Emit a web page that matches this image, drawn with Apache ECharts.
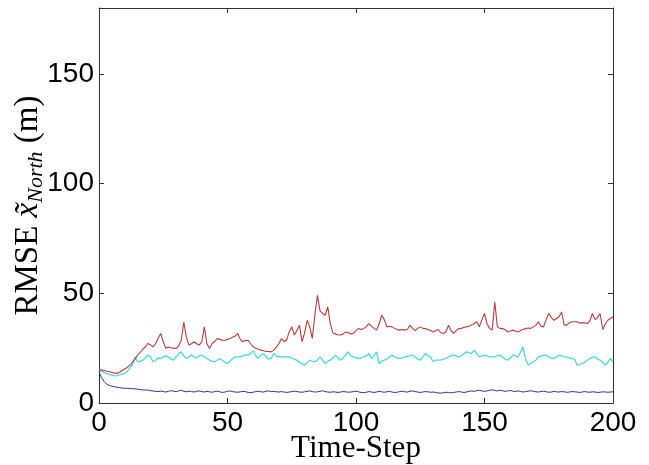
<!DOCTYPE html>
<html><head><meta charset="utf-8">
<script src="https://cdn.jsdelivr.net/npm/echarts@6/dist/echarts.min.js"></script>
<style>html,body{margin:0;padding:0;background:#fff}#c{width:649px;height:465px}</style>
</head><body><div id="c"></div>
<script>
const xTicks = [0, 50, 100, 150, 200];
const yTicks = [0, 50, 100, 150];
const redSeries = [
 15, 15, 14.8, 14.5, 14.2, 14, 13.6, 13.5, 14, 14.8, 15.5,
 16.2, 17.2, 18.5, 20, 21.8, 23, 24.5, 25.5, 27.1, 26.5,
 25.6, 27, 29.5, 31.7, 28, 24.9, 25.5, 25.2, 25, 24.8,
 26, 28.6, 36.9, 30, 26.4, 27, 27.9, 27, 26.4, 27.9,
 34.7, 27, 24.8, 27.1, 28, 29.4, 29, 28.6, 28.6, 29,
 29.4, 30, 30.5, 31.7, 29, 27.9, 28.5, 28.6, 27, 25.6,
 25, 24.5, 24.1, 23.8, 23.5, 23.5, 23.3, 24.1, 25.5, 27,
 29.4, 28, 28.6, 32.4, 34.7, 30.9, 33, 35.4, 27.9, 32,
 37.7, 34.7, 29.4, 40, 49.1, 42, 40.8, 40, 43.8, 36.2,
 32, 31.5, 31, 31, 31.5, 32.4, 32, 31.5, 31.7, 33,
 34, 33.5, 34, 34.7, 36.2, 35, 34, 33.2, 36, 40,
 38, 34.7, 35, 34.7, 34, 33.5, 33.2, 33.5, 33.2, 33.5,
 35.4, 34, 33, 34, 34.7, 34, 33.9, 33.5, 33, 32.4,
 33, 33.5, 32, 31.7, 32.5, 35.4, 33, 31.7, 33, 33.9,
 34, 34.5, 34.7, 35, 35.5, 36.2, 37, 34.7, 38, 40.8,
 36, 34, 33.2, 46, 34.7, 34, 33.9, 33.5, 32.4, 32.8,
 33.2, 32.8, 32.4, 33, 33.5, 33.9, 34.2, 34, 34.7, 35.5,
 37, 35, 34.7, 38, 40.8, 39, 37.7, 38.5, 39.3, 41.5,
 35.5, 35.5, 36.5, 37, 37, 37, 36.5, 36.5, 36.5, 36.2,
 37.5, 40.8, 38, 39, 40.8, 33.5, 36, 37.7, 38.5, 39.3
];
const cyanSeries = [
 15, 14.5, 13.8, 13.3, 13, 12.7, 12.4, 12.5, 12.8, 13.2, 13.5,
 14.5, 15.8, 17.5, 21, 18.8, 19, 19.5, 20.5, 21.8, 21,
 18.8, 19.5, 20.5, 20.3, 21, 21.5, 21, 20, 19.5, 21,
 22.5, 23.3, 21.5, 20.3, 21, 22, 21, 20.5, 21.5, 21.8,
 21, 20.3, 19.5, 19, 18.8, 19.5, 20.3, 19.5, 18.5, 18,
 19, 20.3, 21, 21, 21, 21.5, 22, 21.8, 22.5, 23.8,
 21.5, 20.3, 21.8, 22.5, 21, 20, 20.3, 22.6, 21.5, 21,
 21, 21, 21, 21, 20.5, 20, 19.5, 18.5, 17.8, 17.3,
 18.5, 19.5, 19, 18.8, 19.5, 21, 19.5, 18, 19, 19.5,
 20.5, 21.8, 20.5, 19.5, 20.5, 22, 23.3, 21.5, 21, 20.5,
 20.3, 20.5, 21, 21.5, 22.6, 20.3, 21.5, 23.3, 18, 19,
 19.5, 20, 21, 21.8, 21, 20.5, 20.3, 20.5, 21, 21.3,
 21.5, 21.8, 21, 20, 19.5, 21, 22.6, 21.5, 21, 18.8,
 19.5, 19.5, 19.5, 20, 20.3, 21, 21.5, 21.8, 21.5, 21,
 21.5, 22.5, 23.3, 22.8, 22.6, 24.1, 22.5, 21, 21.5, 21.8,
 21.5, 21, 21, 21, 21.5, 21.8, 21, 20, 19.5, 20.5,
 21.8, 21.5, 21, 23, 25.6, 20, 17.3, 18, 18.8, 19.5,
 21, 21.5, 21.8, 21.8, 21, 20.5, 20.3, 21, 21.8, 21.5,
 21, 21, 20.5, 20.3, 20, 17.3, 17.5, 18, 18.5, 19.5,
 20.3, 20.8, 21, 20, 19.5, 18.5, 17.3, 18.5, 20.3, 18.8
];
const blueSeries = [
 14.2, 11.5, 9.8, 8.6, 8, 7.7, 7.4, 7.2, 7, 6.8, 6.7,
 6.7, 6.6, 6.5, 6.5, 6.3, 6.1, 6, 5.9, 5.9, 5.6,
 5.5, 5.3, 5.2, 5.4, 5.2, 5, 5.3, 5.6, 5.4, 5.2,
 5.5, 5.8, 5.3, 5.1, 5.4, 5.2, 5, 5.3, 5.5, 5.2,
 5, 5.3, 5.1, 4.9, 5.2, 5.4, 5.1, 4.8, 5, 5.3,
 5.5, 5.2, 5, 4.9, 5.1, 5.3, 5.2, 4.8, 4.7, 4.9,
 5.2, 5.4, 5.1, 5, 5.3, 5.5, 5.2, 5.3, 5.1, 5,
 5.2, 5, 4.8, 5, 5.2, 5.4, 5.2, 5, 4.9, 5.1,
 5.3, 5.5, 5.2, 5, 5.1, 5.3, 5.6, 5.2, 5, 4.9,
 5.1, 5, 4.8, 5, 5.2, 5.1, 4.9, 5, 5.2, 5.4,
 5.1, 4.8, 4.7, 4.9, 5.2, 5, 4.8, 5, 5.3, 5.1,
 4.9, 5.1, 5.3, 5, 4.8, 4.9, 5.2, 5.4, 5.1, 5,
 5.3, 5.5, 5.2, 5, 4.8, 5, 5.2, 5.1, 4.9, 5,
 4.8, 4.6, 4.5, 4.7, 4.9, 4.8, 4.6, 4.8, 5, 5.2,
 5, 4.8, 5, 5.3, 5.5, 5.3, 5.6, 5.8, 5.5, 5.3,
 5.5, 5.8, 6, 5.7, 5.5, 5.8, 5.6, 5.3, 5.5, 5.7,
 5.4, 5.2, 5.5, 5.3, 5, 5.2, 5.4, 5.6, 5.3, 5.1,
 5, 5.2, 5.4, 5.1, 4.9, 5, 5.3, 5.1, 5, 5.2,
 5.1, 4.9, 5, 5.2, 5.1, 5, 4.8, 5, 5.2, 5,
 4.9, 5.1, 5, 4.8, 4.9, 5.1, 5, 4.9, 5, 5.1
];
const timeSteps = redSeries.map((_, i) => i);
const xAxisTitle = 'Time-Step';

const chart = echarts.init(document.getElementById('c'), null, {renderer: 'canvas'});
const axisCol = '#333';
const tickFont = {fontFamily: 'Liberation Sans, Arial, sans-serif', fontSize: 28, color: '#000'};
function pairs(arr){ return arr.map((v,i)=>[timeSteps[i], v]); }
chart.setOption({
  animation: false,
  backgroundColor: '#fff',
  grid: {left: 99, top: 8, right: 36, bottom: 62, containLabel: false, outerBoundsMode: 'none'},
  xAxis: [{
    type: 'value', min: 0, max: 200, interval: 50,
    name: xAxisTitle, nameLocation: 'middle', nameGap: 30, nameMoveOverlap: false,
    nameTextStyle: {fontFamily: 'Liberation Serif, Times New Roman, serif', fontSize: 31, color: '#000'},
    axisLine: {show: true, onZero: false, lineStyle: {color: axisCol, width: 1}},
    axisTick: {show: true, inside: true, length: 5, lineStyle: {color: axisCol}},
    axisLabel: Object.assign({margin: 6, formatter: v => xTicks.includes(v) ? String(v) : ''}, tickFont),
    splitLine: {show: false}
  },{
    type: 'value', min: 0, max: 200, interval: 50, position: 'top',
    axisLine: {show: true, onZero: false, lineStyle: {color: axisCol, width: 1}},
    axisTick: {show: true, inside: true, length: 5, lineStyle: {color: axisCol}},
    axisLabel: {show: false}, splitLine: {show: false}
  }],
  yAxis: [{
    type: 'value', min: 0, max: 180, interval: 50,
    name: '{a|RMSE }{b|x\u0303}{c|North}{a| (m)}',
    nameLocation: 'middle', nameRotate: 90, nameGap: 51, nameMoveOverlap: false,
    nameTextStyle: {
      color: '#000',
      rich: {
        a: {fontFamily: 'Liberation Serif, serif', fontSize: 33, color: '#000', verticalAlign: 'top', lineHeight: 36},
        b: {fontFamily: 'Liberation Serif, serif', fontStyle: 'italic', fontSize: 33, color: '#000', verticalAlign: 'top', lineHeight: 36},
        c: {fontFamily: 'Liberation Serif, serif', fontStyle: 'italic', fontSize: 22, color: '#000', verticalAlign: 'top', lineHeight: 25, padding: [13, 0, 0, 0]}
      }
    },
    axisLine: {show: true, onZero: false, lineStyle: {color: axisCol, width: 1}},
    axisTick: {show: true, inside: true, length: 5, lineStyle: {color: axisCol}},
    axisLabel: Object.assign({margin: 5, formatter: v => yTicks.includes(v) ? String(v) : ''}, tickFont),
    splitLine: {show: false}
  },{
    type: 'value', min: 0, max: 180, interval: 50, position: 'right',
    axisLine: {show: true, onZero: false, lineStyle: {color: axisCol, width: 1}},
    axisTick: {show: true, inside: true, length: 5, lineStyle: {color: axisCol}},
    axisLabel: {show: false}, splitLine: {show: false}
  }],
  series: [
    {type: 'line', data: pairs(redSeries), showSymbol: false, lineStyle: {color: '#c0393b', width: 1.1}, z: 3},
    {type: 'line', data: pairs(cyanSeries), showSymbol: false, lineStyle: {color: '#46dcd8', width: 1.3}, z: 2},
    {type: 'line', data: pairs(blueSeries), showSymbol: false, lineStyle: {color: '#30309a', width: 1}, z: 1}
  ]
});
</script></body></html>
